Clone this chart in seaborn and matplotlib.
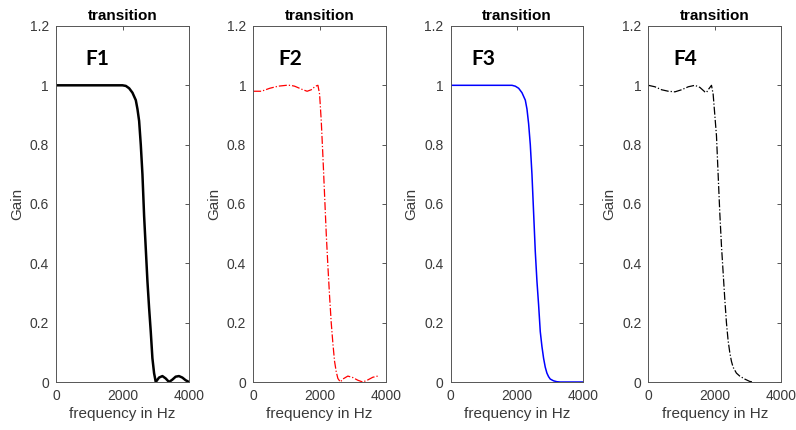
import matplotlib
matplotlib.use("Agg")
import matplotlib.pyplot as plt
import seaborn as sns

# frequency response readings (Hz, gain)
f1_freq = [0, 500, 1000, 1500, 2000, 2100, 2200, 2300, 2400, 2450, 2500, 2550, 2600, 2650,
           2700, 2750, 2800, 2850, 2900, 2950, 3000, 3100, 3200, 3300, 3400, 3500, 3600,
           3700, 3800, 3900, 4000]
f1_gain = [1, 1, 1, 1, 1, 0.998, 0.99, 0.975, 0.95, 0.92, 0.88, 0.8, 0.7, 0.56,
           0.45, 0.34, 0.25, 0.17, 0.08, 0.03, 0.0, 0.015, 0.02, 0.012, 0.0, 0.008, 0.018,
           0.02, 0.015, 0.006, 0.0]

f2_freq = [0, 250, 500, 750, 1000, 1125, 1250, 1500, 1625, 1750, 1875, 1950, 2000, 2050,
           2100, 2150, 2200, 2250, 2300, 2350, 2400, 2450, 2500, 2550, 2625, 2700, 2850,
           3000, 3150, 3300, 3450, 3600, 3750]
f2_gain = [0.98, 0.98, 0.99, 0.997, 1.0, 1.0, 0.997, 0.985, 0.98, 0.985, 0.997, 1.0, 0.97,
           0.88, 0.76, 0.63, 0.5, 0.39, 0.29, 0.2, 0.13, 0.07, 0.035, 0.012, 0.0, 0.01, 0.02,
           0.015, 0.006, 0.0, 0.007, 0.016, 0.02]

f3_freq = [0, 500, 1000, 1500, 1850, 1950, 2050, 2150, 2250, 2300, 2350, 2400, 2450, 2500,
           2550, 2600, 2650, 2700, 2750, 2800, 2850, 2900, 2950, 3000, 3100, 3200, 3300,
           3500, 4000]
f3_gain = [1, 1, 1, 1, 1, 0.997, 0.99, 0.975, 0.95, 0.92, 0.87, 0.8, 0.7, 0.57,
           0.44, 0.34, 0.26, 0.17, 0.12, 0.08, 0.05, 0.03, 0.018, 0.01, 0.004, 0.001, 0,
           0, 0]

f4_freq = [0, 200, 400, 600, 800, 1000, 1200, 1400, 1550, 1700, 1750, 1800, 1900, 1950,
           2000, 2050, 2100, 2150, 2200, 2250, 2300, 2350, 2400, 2450, 2500, 2550, 2650,
           2750, 2900, 3050, 3150]
f4_gain = [1.0, 0.995, 0.985, 0.98, 0.978, 0.985, 0.995, 1.0, 0.993, 0.978, 0.976, 0.985,
           1.0, 0.97, 0.9, 0.83, 0.7, 0.57, 0.46, 0.37, 0.28, 0.2, 0.14, 0.1, 0.07, 0.05,
           0.03, 0.02, 0.01, 0.002, 0.0]

names = ["F1", "F2", "F3", "F4"]
x_ticks = [0, 2000, 4000]
y_ticks = [0, 0.2, 0.4, 0.6, 0.8, 1, 1.2]
y_tick_labels = ["0", "0.2", "0.4", "0.6", "0.8", "1", "1.2"]

sns.set_style("white")
plt.rcParams['font.family'] = ['Liberation Sans', 'DejaVu Sans']

fig = plt.figure(figsize=(7.96, 4.30), dpi=100)

lefts = [0.0704, 0.318, 0.566, 0.8145]
styles = [
    dict(color='black', linestyle='-', linewidth=1.8),
    dict(color='red', linestyle='-.', linewidth=0.9),
    dict(color='blue', linestyle='-', linewidth=1.1),
    dict(color='black', linestyle='-.', linewidth=0.9),
]
label_x = [872, 757, 640, 741]
data = [(f1_freq, f1_gain), (f2_freq, f2_gain), (f3_freq, f3_gain), (f4_freq, f4_gain)]

txt = '#3a3a3a'
for i, (fx, gy) in enumerate(data):
    ax = fig.add_axes([lefts[i], 0.1116, 0.167, 0.828])
    sns.lineplot(x=fx, y=gy, ax=ax, sort=False, **styles[i])
    ax.set_xlim(0, 4000)
    ax.set_ylim(0, 1.2)
    ax.set_xticks(x_ticks)
    ax.set_xticklabels([str(t) for t in x_ticks])
    ax.set_yticks(y_ticks)
    ax.set_yticklabels(y_tick_labels)
    ax.tick_params(direction='in', length=3, width=0.7, top=True, right=True,
                   labelsize=10, colors='#555555', labelcolor=txt, pad=5)
    for s in ax.spines.values():
        s.set_color('#555555')
        s.set_linewidth(0.7)
    ax.set_xlabel('frequency in Hz', fontsize=11, color=txt, labelpad=3)
    ax.set_ylabel('Gain', fontsize=11, color=txt, labelpad=4)
    ax.set_title('transition', fontsize=11, fontweight='bold', color='black', pad=4)
    ax.text(label_x[i], 1.09, names[i], fontsize=15, fontweight='bold',
            family=['Lato', 'DejaVu Sans'], color='black', ha='left', va='center')

plt.savefig('out.png', dpi=100)
